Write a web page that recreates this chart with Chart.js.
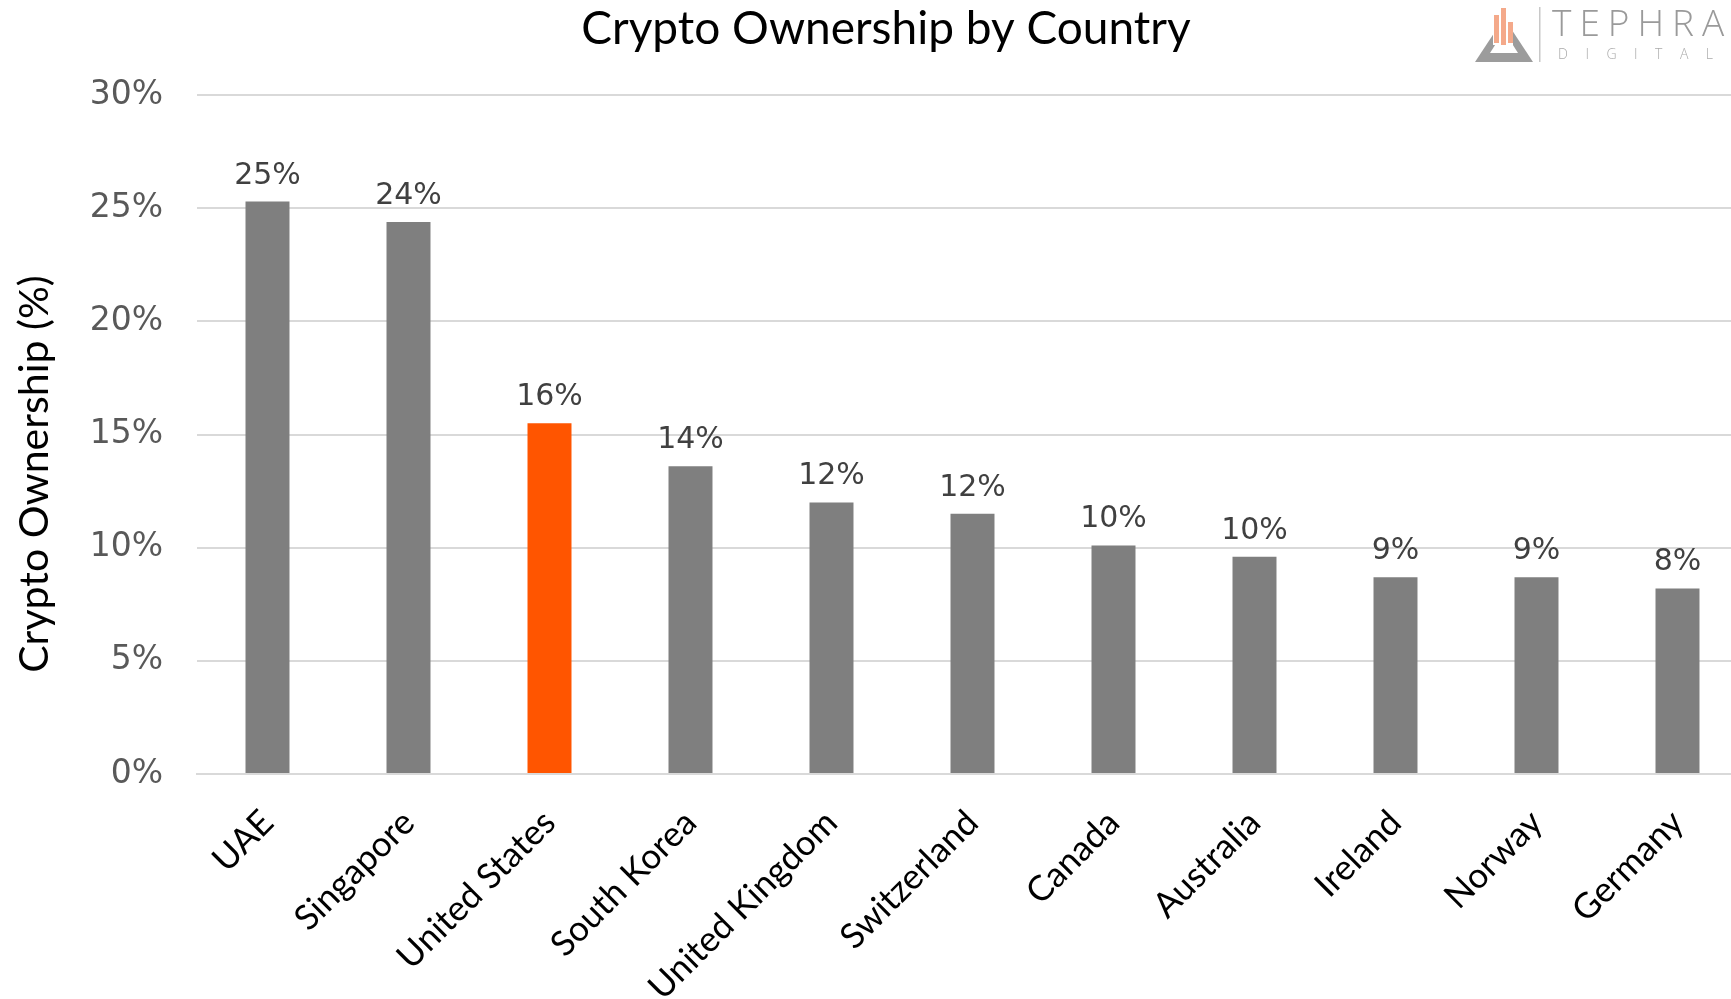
<!DOCTYPE html>
<html>
<head>
<meta charset="utf-8">
<title>Crypto Ownership by Country</title>
<script src="https://cdn.jsdelivr.net/npm/chart.js@4/dist/chart.umd.min.js"></script>
<style>
  html, body { margin: 0; padding: 0; background: #fff; overflow: hidden; }
  #wrap { position: relative; width: 1731px; height: 999px; overflow: hidden; }
  #chart { position: absolute; left: 0; top: 0; }
  #logo { position: absolute; left: 1474px; top: 0; width: 257px; height: 66px; }
  #logo .name { position: absolute; left: 78px; top: 1px; font-family: "Open Sans", sans-serif; font-weight: 300;
    font-size: 37px; letter-spacing: 8px; color: #9a9a9a; line-height: 42px; white-space: nowrap; }
  #logo .sub { position: absolute; left: 84px; top: 45px; font-family: "Open Sans", sans-serif; font-weight: 300;
    font-size: 14px; letter-spacing: 17.5px; color: #aaa; line-height: 18px; white-space: nowrap; }
</style>
</head>
<body>
<div id="wrap">
  <canvas id="chart" width="1772" height="999"></canvas>
  <div id="logo">
    <svg width="70" height="66" style="position:absolute;left:0;top:0">
      <polygon points="1,62 30,18 59,62" fill="#9c9c9c"/>
      <polygon points="16,53 30,31 44,53" fill="#fff"/>
      <rect x="19" y="14" width="20" height="31" fill="#fff"/>
      <rect x="20" y="15" width="5" height="28" fill="#f4a98a"/>
      <rect x="27" y="8" width="5" height="37" fill="#f4a98a"/>
      <rect x="34" y="22" width="5" height="21" fill="#f4a98a"/>
      <rect x="65" y="7" width="1.5" height="55" fill="#c8c8c8"/>
    </svg>
    <div class="name">TEPHRA</div>
    <div class="sub">DIGITAL</div>
  </div>
</div>
<script>
const countries = ["UAE", "Singapore", "United States", "South Korea", "United Kingdom",
  "Switzerland", "Canada", "Australia", "Ireland", "Norway", "Germany"];
const ownership = [25.3, 24.4, 15.5, 13.6, 12.0, 11.5, 10.1, 9.6, 8.7, 8.7, 8.2];
const highlight = "United States";
const yTicks = [0, 5, 10, 15, 20, 25, 30];

const barColors = countries.map(c => c === highlight ? "#ff5500" : "#7f7f7f");

const valueLabels = {
  id: "valueLabels",
  afterDatasetsDraw(chart) {
    const ctx = chart.ctx;
    const meta = chart.getDatasetMeta(0);
    ctx.save();
    ctx.font = "30px 'DejaVu Sans'";
    ctx.fillStyle = "#404040";
    ctx.textAlign = "center";
    ctx.textBaseline = "alphabetic";
    meta.data.forEach((bar, i) => {
      ctx.fillText(Math.round(ownership[i]) + "%", bar.x, bar.y - 18);
    });
    ctx.restore();
  }
};

const yTitle = {
  id: "yTitle",
  afterDraw(chart) {
    const ctx = chart.ctx;
    ctx.save();
    ctx.translate(35, 474);
    ctx.rotate(-Math.PI / 2);
    ctx.font = "41px Lato";
    ctx.fillStyle = "#000";
    ctx.textAlign = "center";
    ctx.textBaseline = "middle";
    ctx.fillText("Crypto Ownership (%)", 0, 0);
    ctx.restore();
  }
};

new Chart(document.getElementById("chart"), {
  type: "bar",
  data: {
    labels: countries,
    datasets: [{
      label: "Crypto Ownership",
      data: ownership,
      backgroundColor: barColors,
      categoryPercentage: 1,
      barPercentage: 0.312
    }]
  },
  options: {
    responsive: false,
    animation: false,
    layout: { padding: { left: 24, right: 24, top: 0, bottom: 0 } },
    plugins: {
      legend: { display: false },
      tooltip: { enabled: false },
      title: {
        display: true,
        text: "Crypto Ownership by Country",
        color: "#000",
        font: { family: "Lato", size: 46, weight: "normal" },
        padding: { top: 2, bottom: 38 }
      }
    },
    scales: {
      x: {
        grid: { display: false },
        border: { display: true, color: "#d9d9d9", width: 2 },
        ticks: {
          color: "#000",
          font: { family: "Lato", size: 35 },
          minRotation: 45,
          maxRotation: 45,
          padding: 20
        },
        afterFit: s => { s.height = 225; }
      },
      y: {
        min: 0,
        max: 30,
        afterBuildTicks: s => { s.ticks = yTicks.map(v => ({ value: v })); },
        grid: { color: "#d9d9d9", lineWidth: 2, drawTicks: false },
        border: { display: false },
        ticks: {
          color: "#595959",
          font: { family: "DejaVu Sans", size: 33 },
          padding: 34,
          callback: v => v + "%"
        },
        afterFit: s => { s.width = 173; }
      }
    }
  },
  plugins: [valueLabels, yTitle]
});
</script>
</body>
</html>
